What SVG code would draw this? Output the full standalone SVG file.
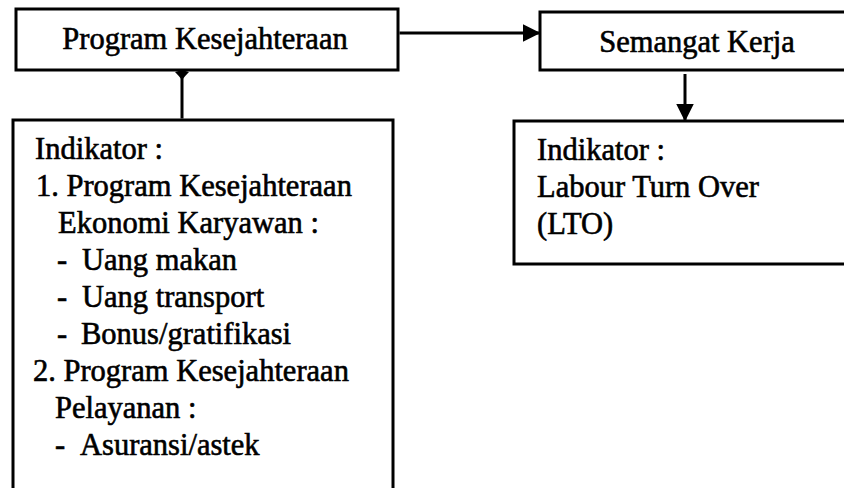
<svg xmlns="http://www.w3.org/2000/svg" width="844" height="488" viewBox="0 0 844 488">
<style>
.box{fill:#fff;stroke:#000;stroke-width:3}
.t{font-family:"Liberation Serif","Times New Roman",serif;font-size:30.5px;fill:#000;stroke:#000;stroke-width:0.6}
.c{stroke:#000;stroke-width:3;fill:none}
</style>
<defs>
<marker id="ah" markerWidth="6" markerHeight="6" refX="5.5" refY="3" orient="auto" markerUnits="strokeWidth">
<path d="M0,0 L6,3 L0,6 Z" fill="#000"/>
</marker>
</defs>
<rect width="844" height="488" fill="#fff"/>
<g id="program-kesejahteraan">
<rect class="box" x="16" y="9" width="382" height="61"/>
<text class="t" x="205" y="49" text-anchor="middle">Program Kesejahteraan</text>
</g>
<g id="semangat-kerja">
<rect class="box" x="540" y="12" width="320" height="58"/>
<text class="t" x="697" y="52" text-anchor="middle">Semangat Kerja</text>
</g>
<g id="indikator-program">
<rect class="box" x="13" y="120" width="380" height="380"/>
<text class="t" x="35" y="159">Indikator :</text>
<text class="t" x="36" y="196">1. Program Kesejahteraan</text>
<text class="t" x="58" y="233">Ekonomi Karyawan :</text>
<text class="t" x="57" y="270">-</text><text class="t" x="82" y="270">Uang makan</text>
<text class="t" x="57" y="307">-</text><text class="t" x="82" y="307">Uang transport</text>
<text class="t" x="57" y="344">-</text><text class="t" x="81" y="344">Bonus/gratifikasi</text>
<text class="t" x="33" y="381">2. Program Kesejahteraan</text>
<text class="t" x="55" y="418">Pelayanan :</text>
<text class="t" x="55" y="455">-</text><text class="t" x="80" y="455">Asuransi/astek</text>
</g>
<g id="indikator-semangat">
<rect class="box" x="514" y="121" width="346" height="143"/>
<text class="t" x="537" y="160">Indikator :</text>
<text class="t" x="537" y="197">Labour Turn Over</text>
<text class="t" x="537" y="234">(LTO)</text>
</g>
<g id="connectors">
<line class="c" x1="399.5" y1="33" x2="539" y2="33" marker-end="url(#ah)"/>
<line class="c" x1="685" y1="74" x2="685" y2="120" marker-end="url(#ah)"/>
<line class="c" x1="182" y1="118.5" x2="182" y2="74"/>
<path d="M175,72 Q182,69 189,72 Q185,76 182,80 Q179,76 175,72 Z" fill="#000"/>
</g>
</svg>
